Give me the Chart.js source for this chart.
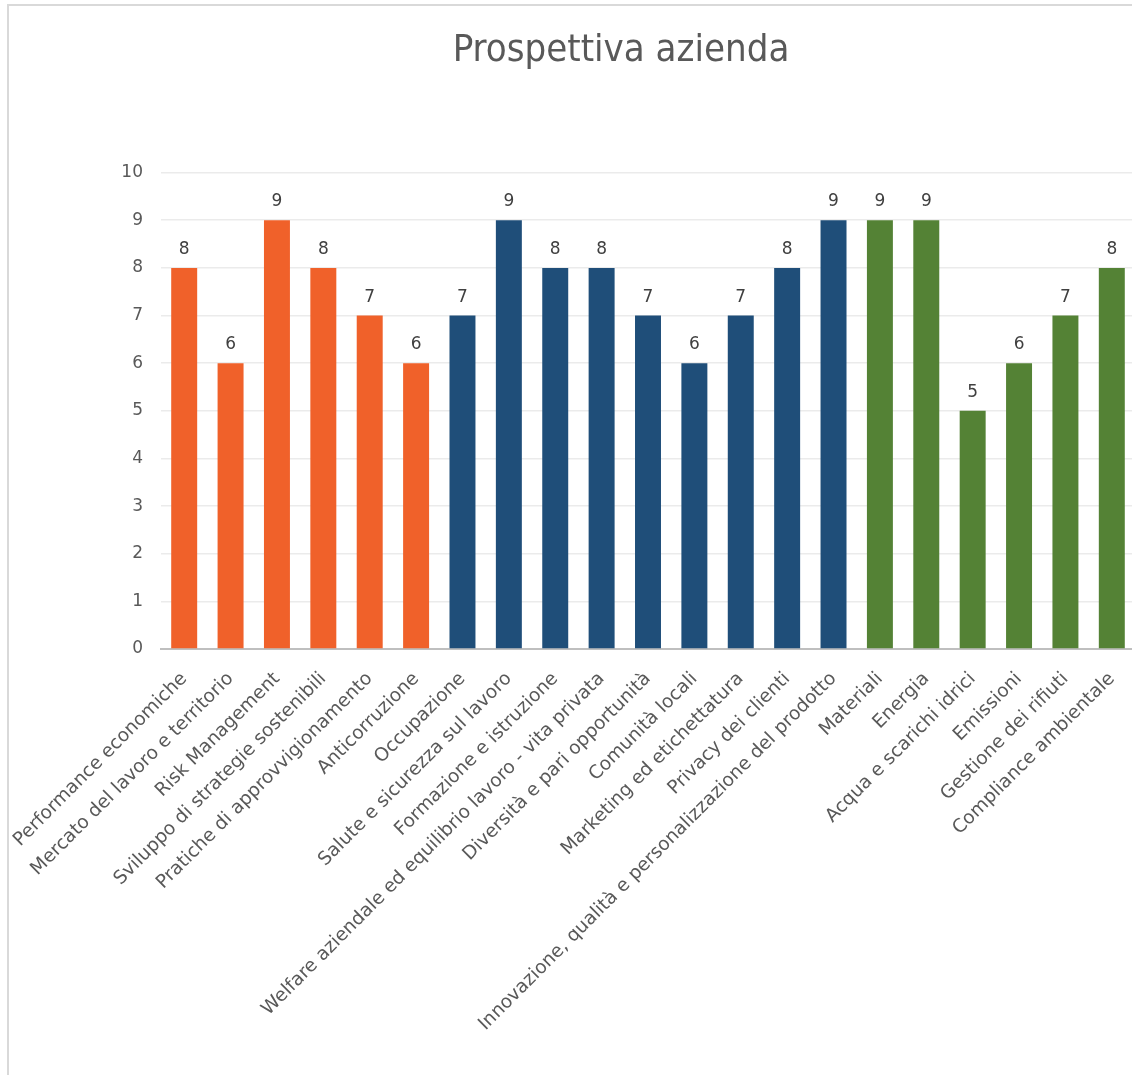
<!DOCTYPE html>
<html>
<head>
<meta charset="utf-8">
<script src="https://cdn.jsdelivr.net/npm/chart.js@4/dist/chart.umd.min.js"></script>
<style>
  html, body { margin: 0; padding: 0; background: #fff; overflow: hidden; }
  #frame { position: absolute; left: 7px; top: 4px; width: 1140px; height: 1080px;
           border-top: 2px solid #d9d9d9; border-left: 2px solid #d9d9d9; }
  #wrap { position: absolute; left: 0; top: 0; width: 1145px; height: 1075px; }
</style>
</head>
<body>
<div id="frame"></div>
<div id="wrap"><canvas id="myChart"></canvas></div>
<script>
const categories = [
  "Performance economiche",
  "Mercato del lavoro e territorio",
  "Risk Management",
  "Sviluppo di strategie sostenibili",
  "Pratiche di approvvigionamento",
  "Anticorruzione",
  "Occupazione",
  "Salute e sicurezza sul lavoro",
  "Formazione e istruzione",
  "Welfare aziendale ed equilibrio lavoro - vita privata",
  "Diversità e pari opportunità",
  "Comunità locali",
  "Marketing ed etichettatura",
  "Privacy dei clienti",
  "Innovazione, qualità e personalizzazione del prodotto",
  "Materiali",
  "Energia",
  "Acqua e scarichi idrici",
  "Emissioni",
  "Gestione dei rifiuti",
  "Compliance ambientale"
];
const values = [8, 6, 9, 8, 7, 6, 7, 9, 8, 8, 7, 6, 7, 8, 9, 9, 9, 5, 6, 7, 8];
// gruppo: 0 = economico, 1 = sociale, 2 = ambientale
const groups = [0, 0, 0, 0, 0, 0, 1, 1, 1, 1, 1, 1, 1, 1, 1, 2, 2, 2, 2, 2, 2];
const groupColors = ["#F0612A", "#1F4E79", "#548235"];

const barLabels = {
  id: "barLabels",
  afterDatasetsDraw(chart) {
    const ctx = chart.ctx;
    const meta = chart.getDatasetMeta(0);
    ctx.save();
    ctx.font = "17px 'DejaVu Sans'";
    ctx.fillStyle = "#404040";
    ctx.textAlign = "center";
    ctx.textBaseline = "alphabetic";
    meta.data.forEach((bar, i) => {
      ctx.fillText(values[i], bar.x, bar.y - 14);
    });
    ctx.restore();
  }
};

const data = {
  labels: categories,
  datasets: [{
    data: values,
    backgroundColor: groups.map(g => groupColors[g]),
    barPercentage: 0.56,
    categoryPercentage: 1.0
  }]
};

const config = {
  type: "bar",
  data: data,
  plugins: [barLabels],
  options: {
    responsive: true,
    maintainAspectRatio: false,
    animation: false,
    layout: { padding: { left: 107, right: 10, top: 0, bottom: 0 } },
    plugins: {
      legend: { display: false },
      tooltip: { enabled: false },
      title: {
        display: true,
        text: "Prospettiva azienda",
        color: "#595959",
        font: { family: "'DejaVu Sans Condensed', 'DejaVu Sans'", size: 38, weight: "normal" },
        padding: { top: 28, bottom: 99 }
      }
    },
    scales: {
      x: {
        grid: { display: false },
        border: { color: "#bfbfbf", width: 2 },
        ticks: {
          autoSkip: false,
          maxRotation: 45,
          minRotation: 45,
          padding: 11,
          color: "#595959",
          font: { family: "'DejaVu Sans'", size: 18.6 }
        },
        afterFit(scale) { scale.height = 426; }
      },
      y: {
        min: 0,
        max: 10,
        grid: { color: "#ebebeb", lineWidth: 1.5, drawTicks: false },
        border: { display: false },
        ticks: {
          stepSize: 1,
          padding: 18,
          color: "#595959",
          font: { family: "'DejaVu Sans'", size: 17 }
        },
        afterFit(scale) { scale.width = 54; }
      }
    }
  }
};

const myChart = new Chart(document.getElementById("myChart"), config);
</script>
</body>
</html>
